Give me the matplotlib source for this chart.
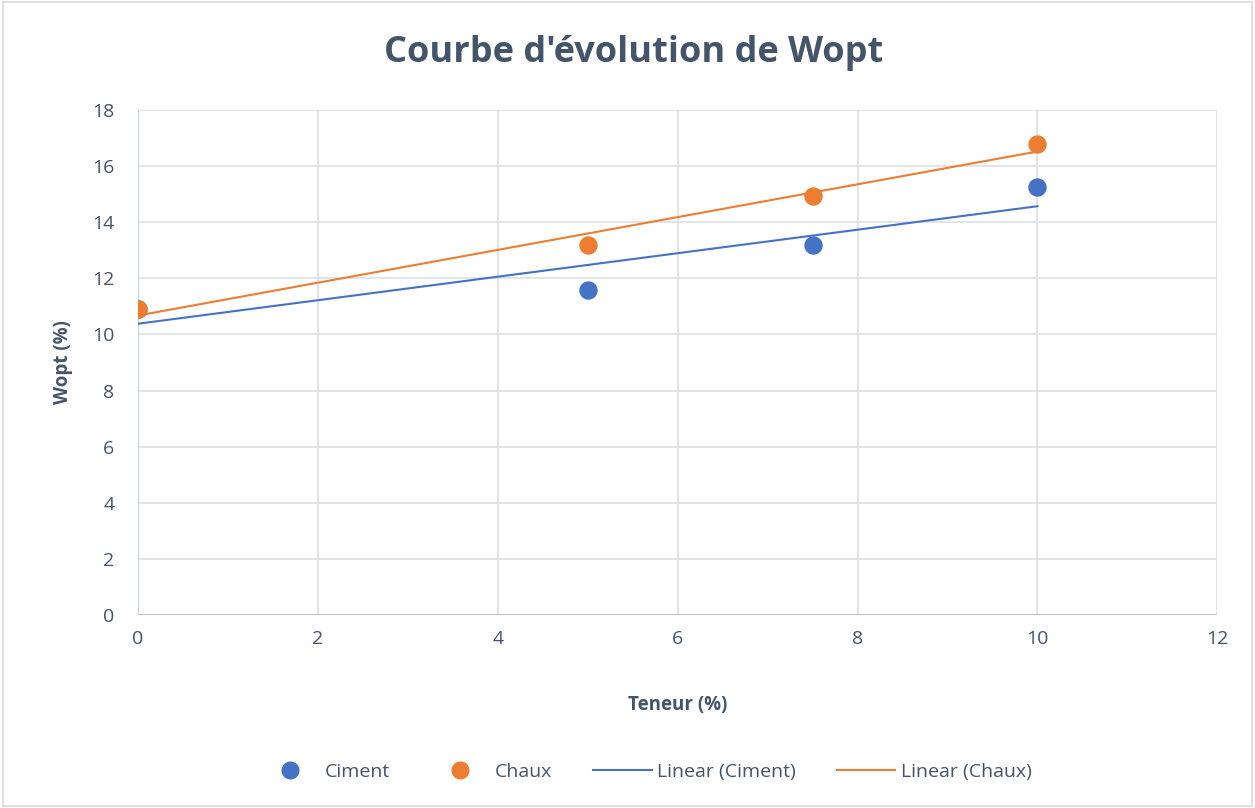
import numpy as np
import matplotlib.pyplot as plt
from matplotlib.lines import Line2D

# data
teneur = [0, 5, 7.5, 10]
ciment = [10.9, 11.6, 13.2, 15.25]
chaux = [10.9, 13.2, 14.95, 16.8]

blue = "#4472C4"
orange = "#ED7D31"
txt = "#44546A"
grid = "#DCE0E6"

plt.rcParams['font.family'] = ['Open Sans', 'DejaVu Sans']

fig = plt.figure(figsize=(12.55, 8.08), dpi=100)
ax = fig.add_axes([0.110, 0.2389, 0.860, 0.625])

# linear trendlines (least squares, like Excel)
for y, c in [(ciment, blue), (chaux, orange)]:
    p = np.polyfit(teneur, y, 1)
    xs = np.array([min(teneur), max(teneur)])
    ax.plot(xs, np.polyval(p, xs), color=c, lw=1.5, zorder=3)

ax.scatter(teneur, ciment, s=150, color=blue, zorder=4)
ax.scatter(teneur, chaux, s=150, color=orange, zorder=5)

ax.set_xlim(0, 12)
ax.set_ylim(0, 18)
ax.set_xticks(range(0, 13, 2))
ax.set_yticks(range(0, 19, 2))
ax.grid(True, color=grid, lw=1.2)
ax.set_axisbelow(True)
for s in ax.spines.values():
    s.set_visible(False)
ax.axvline(0, color="#C5CEDC", lw=1.3, zorder=1)
ax.axhline(0, color="#BFBFBF", lw=1.3, zorder=1)
ax.tick_params(length=0, labelsize=14, labelcolor=txt)
ax.tick_params(axis="x", pad=11)
ax.tick_params(axis="y", pad=17)

ax.set_xlabel("Teneur (%)", fontsize=13.5, fontweight="bold", color=txt, labelpad=34)
ax.set_ylabel("Wopt (%)", fontsize=13.5, fontweight="bold", color=txt, labelpad=14)
fig.text(0.505, 0.935, "Courbe d'évolution de Wopt", ha="center", va="center",
         fontsize=26, fontweight="bold", color=txt)

handles = [
    Line2D([], [], ls="", marker="o", ms=12, color=blue),
    Line2D([], [], ls="", marker="o", ms=12, color=orange),
    Line2D([], [], color=blue, lw=1.5),
    Line2D([], [], color=orange, lw=1.5),
]
labels = ["Ciment", "Chaux", "Linear (Ciment)", "Linear (Chaux)"]
leg = fig.legend(handles, labels, loc="center", bbox_to_anchor=(0.515, 0.045), ncol=4,
                 frameon=False, fontsize=14, handlelength=3.0, columnspacing=2.1,
                 handletextpad=0.3)
for t in leg.get_texts():
    t.set_color(txt)

# thin frame around the whole chart area
fig.patches.append(plt.Rectangle((0.002, 0.002), 0.996, 0.996, transform=fig.transFigure,
                                 fill=False, edgecolor="#D9D9D9", lw=1.2))

fig.savefig("out.png", dpi=100)
